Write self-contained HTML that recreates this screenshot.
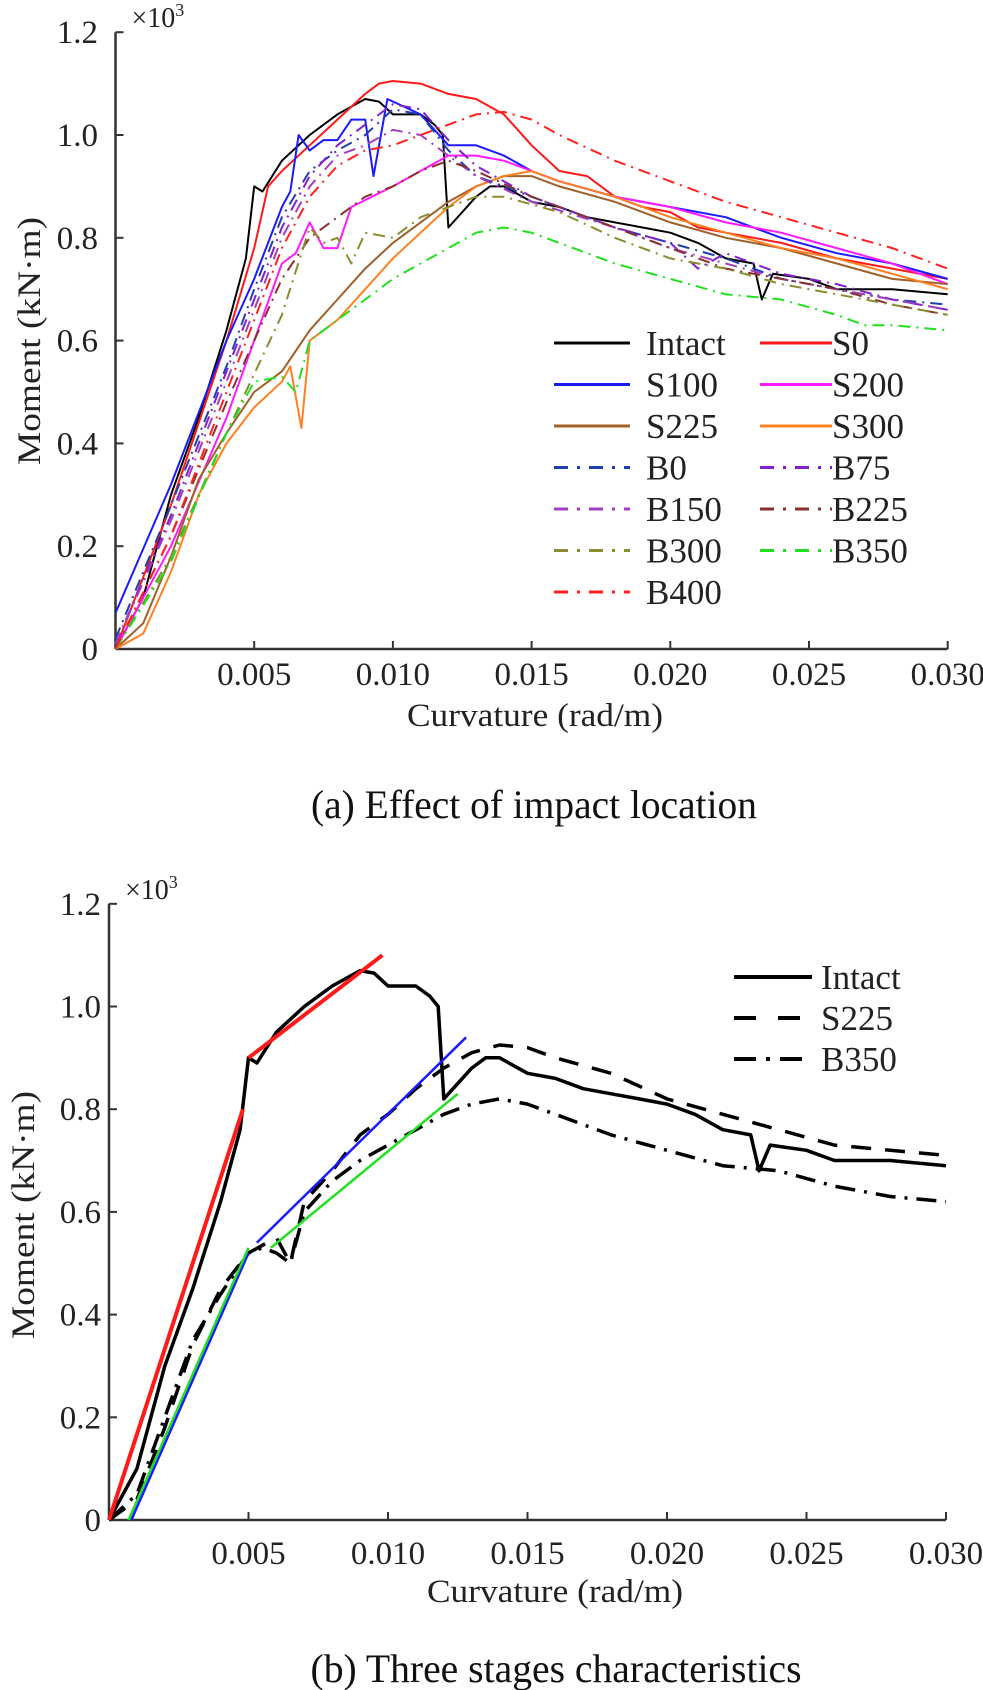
<!DOCTYPE html>
<html><head><meta charset="utf-8">
<style>
html,body{margin:0;padding:0;background:#fff;}
svg{display:block;font-family:"Liberation Serif",serif;}
</style></head>
<body>
<svg id="fig" width="983" height="1690" viewBox="0 0 983 1690" xmlns="http://www.w3.org/2000/svg">
<g id="chartA"></g>
<g id="chartB"></g>
</svg>
<script>
// ---------- shared ticks ----------
const xTicks = [0.005, 0.010, 0.015, 0.020, 0.025, 0.030];
const xTickLabels = ["0.005","0.010","0.015","0.020","0.025","0.030"];
const yTicks = [0, 0.2, 0.4, 0.6, 0.8, 1.0, 1.2];
const yTickLabels = ["0","0.2","0.4","0.6","0.8","1.0","1.2"];

// ---------- chart (a) data: curvature (rad/m), moment (x10^3 kN·m) ----------
const intactX = [0,0.001,0.002,0.003,0.004,0.0047,0.005,0.0053,0.006,0.007,0.008,0.009,0.0095,0.010,0.011,0.0115,0.0118,0.012,0.013,0.0135,0.014,0.015,0.016,0.017,0.018,0.019,0.020,0.021,0.022,0.023,0.0233,0.0237,0.025,0.026,0.028,0.030];
const intactY = [0,0.1,0.3,0.45,0.62,0.76,0.9,0.89,0.95,1.0,1.04,1.07,1.065,1.04,1.04,1.02,1.0,0.82,0.88,0.9,0.9,0.87,0.86,0.84,0.83,0.82,0.81,0.79,0.76,0.75,0.68,0.73,0.72,0.7,0.7,0.69];
const s0X = [0,0.002,0.004,0.005,0.0055,0.006,0.007,0.008,0.009,0.0095,0.010,0.011,0.012,0.013,0.014,0.015,0.016,0.017,0.018,0.019,0.020,0.021,0.022,0.024,0.026,0.028,0.030];
const s0Y = [0,0.28,0.6,0.78,0.9,0.93,0.98,1.03,1.08,1.1,1.105,1.1,1.08,1.07,1.04,0.98,0.93,0.92,0.88,0.86,0.85,0.82,0.81,0.79,0.76,0.74,0.72];
const s100X = [0,0.002,0.004,0.005,0.006,0.0063,0.0066,0.007,0.0075,0.008,0.0085,0.009,0.0093,0.0098,0.011,0.012,0.013,0.014,0.015,0.016,0.018,0.020,0.022,0.024,0.026,0.028,0.030];
const s100Y = [0.07,0.32,0.6,0.72,0.86,0.89,1.0,0.97,0.99,0.99,1.03,1.03,0.92,1.07,1.04,0.98,0.98,0.96,0.93,0.91,0.88,0.86,0.84,0.8,0.77,0.75,0.72];
const s200X = [0,0.002,0.004,0.005,0.006,0.0065,0.007,0.0075,0.008,0.0085,0.010,0.011,0.012,0.013,0.014,0.015,0.016,0.018,0.020,0.022,0.024,0.026,0.028,0.030];
const s200Y = [0,0.2,0.45,0.6,0.75,0.77,0.83,0.78,0.78,0.86,0.9,0.93,0.96,0.96,0.95,0.93,0.91,0.88,0.86,0.83,0.81,0.78,0.75,0.71];
const s225X = [0,0.001,0.002,0.003,0.004,0.005,0.006,0.007,0.008,0.009,0.010,0.011,0.012,0.013,0.014,0.015,0.016,0.018,0.020,0.022,0.024,0.026,0.028,0.030];
const s225Y = [0,0.05,0.18,0.33,0.42,0.5,0.54,0.62,0.68,0.74,0.79,0.83,0.87,0.9,0.92,0.92,0.9,0.87,0.83,0.8,0.78,0.75,0.72,0.71];
const s300X = [0,0.001,0.002,0.003,0.004,0.005,0.006,0.0063,0.0067,0.007,0.008,0.009,0.010,0.011,0.012,0.013,0.014,0.015,0.016,0.018,0.020,0.022,0.024,0.026,0.028,0.030];
const s300Y = [0,0.03,0.15,0.3,0.4,0.47,0.52,0.55,0.43,0.6,0.64,0.7,0.76,0.81,0.86,0.9,0.92,0.93,0.91,0.88,0.84,0.81,0.78,0.76,0.73,0.7];
const b0X = [0,0.002,0.004,0.005,0.006,0.007,0.008,0.009,0.010,0.011,0.012,0.013,0.014,0.016,0.018,0.020,0.022,0.024,0.026,0.028,0.030];
const b0Y = [0.02,0.28,0.55,0.7,0.84,0.93,0.97,1.0,1.05,1.04,0.97,0.92,0.9,0.86,0.82,0.79,0.76,0.72,0.7,0.68,0.67];
const b75X = [0,0.002,0.004,0.006,0.007,0.008,0.009,0.010,0.011,0.012,0.013,0.015,0.018,0.020,0.021,0.022,0.024,0.026,0.028,0.030];
const b75Y = [0.01,0.26,0.54,0.82,0.92,0.98,1.02,1.06,1.05,0.99,0.94,0.88,0.82,0.79,0.74,0.77,0.73,0.71,0.68,0.66];
const b150X = [0,0.002,0.004,0.006,0.007,0.008,0.009,0.010,0.011,0.012,0.013,0.015,0.018,0.020,0.022,0.024,0.026,0.028,0.030];
const b150Y = [0.01,0.25,0.52,0.8,0.9,0.96,0.98,1.01,1.0,0.96,0.92,0.87,0.82,0.78,0.75,0.72,0.7,0.68,0.66];
const b225X = [0,0.002,0.004,0.006,0.007,0.008,0.009,0.010,0.011,0.012,0.013,0.015,0.018,0.020,0.022,0.024,0.026,0.028,0.030];
const b225Y = [0,0.22,0.48,0.72,0.8,0.84,0.88,0.9,0.93,0.95,0.93,0.88,0.82,0.78,0.74,0.72,0.7,0.67,0.65];
const b300X = [0,0.002,0.004,0.006,0.007,0.0075,0.008,0.0085,0.009,0.010,0.011,0.012,0.013,0.014,0.016,0.018,0.020,0.022,0.024,0.026,0.028,0.030];
const b300Y = [0,0.18,0.42,0.65,0.82,0.79,0.8,0.75,0.81,0.8,0.84,0.86,0.88,0.88,0.85,0.8,0.76,0.74,0.71,0.69,0.67,0.65];
const b350X = [0,0.002,0.004,0.005,0.006,0.0065,0.007,0.008,0.009,0.010,0.011,0.012,0.013,0.014,0.015,0.016,0.018,0.020,0.022,0.024,0.026,0.027,0.028,0.030];
const b350Y = [0,0.17,0.42,0.52,0.53,0.5,0.6,0.64,0.68,0.72,0.75,0.78,0.81,0.82,0.81,0.79,0.75,0.72,0.69,0.68,0.65,0.63,0.63,0.62];
const b400X = [0,0.002,0.004,0.006,0.007,0.008,0.009,0.010,0.011,0.012,0.013,0.014,0.015,0.016,0.018,0.020,0.022,0.024,0.026,0.028,0.030];
const b400Y = [0,0.22,0.5,0.78,0.88,0.94,0.97,0.98,1.0,1.02,1.04,1.045,1.03,1.0,0.95,0.91,0.87,0.84,0.81,0.78,0.74];

// ---------- chart (b) data ----------
const bIntactX = intactX;
const bIntactY = intactY;
const bS225X = [0,0.001,0.002,0.003,0.004,0.005,0.006,0.0065,0.007,0.008,0.009,0.010,0.011,0.012,0.013,0.014,0.015,0.016,0.018,0.020,0.022,0.024,0.026,0.028,0.030];
const bS225Y = [0,0.04,0.18,0.34,0.45,0.52,0.55,0.5,0.62,0.68,0.75,0.79,0.84,0.88,0.91,0.925,0.92,0.9,0.87,0.82,0.79,0.76,0.73,0.72,0.71];
const bB350X = [0,0.001,0.002,0.003,0.004,0.005,0.0055,0.006,0.0065,0.007,0.008,0.009,0.010,0.011,0.012,0.013,0.014,0.015,0.016,0.018,0.020,0.022,0.024,0.026,0.028,0.030];
const bB350Y = [0,0.05,0.2,0.35,0.44,0.52,0.53,0.52,0.5,0.6,0.66,0.7,0.73,0.76,0.79,0.81,0.82,0.81,0.79,0.75,0.72,0.69,0.68,0.65,0.63,0.62];
const fitRedX = [0,0.0048,0.005,0.0098];
const fitRedY = [0,0.8,0.9,1.1];
const fitBlueX = [0.0008,0.005,0.0053,0.0128];
const fitBlueY = [0,0.52,0.54,0.94];
const fitGreenX = [0.0007,0.005,0.0058,0.0125];
const fitGreenY = [0,0.53,0.53,0.83];

const NS = "http://www.w3.org/2000/svg";
function mk(tag, parent, attrs){
  const e = document.createElementNS(NS, tag);
  for (const k in attrs) e.setAttribute(k, attrs[k]);
  parent.appendChild(e);
  return e;
}
function axes(cfg){
  return {
    sx: v => cfg.x0 + v / 0.005 * cfg.step,
    sy: v => cfg.y0 - v / 0.2 * cfg.ystep
  };
}
function drawFrame(g, cfg, A, prefix){
  const ax = mk("line", g, {x1:cfg.x0, y1:cfg.y0, x2:A.sx(0.030), y2:cfg.y0, stroke:"#333", "stroke-width":2.5});
  
  
  const ay = mk("line", g, {x1:cfg.x0, y1:cfg.y0, x2:cfg.x0, y2:A.sy(1.2), stroke:"#333", "stroke-width":2.5});
  
  
  xTicks.forEach((t,i)=>{
    const x = A.sx(t);
    const tk = mk("line", g, {x1:x, y1:cfg.y0, x2:x, y2:cfg.y0-8, stroke:"#333", "stroke-width":2});
    
    
    const tl = mk("text", g, {x:x, y:cfg.xLabY, "font-size":33, "text-anchor":"middle", fill:"#222"});
    tl.textContent = xTickLabels[i];
    
    
  });
  yTicks.forEach((t,i)=>{
    const y = A.sy(t);
    const tk = mk("line", g, {x1:cfg.x0, y1:y, x2:cfg.x0+8, y2:y, stroke:"#333", "stroke-width":2});
    
    
    const tl = mk("text", g, {x:cfg.yLabX, y:y+11, "font-size":33, "text-anchor":"end", fill:"#222"});
    tl.textContent = yTickLabels[i];
    
    
  });
  const ex = mk("text", g, {x:cfg.x0+16, y:A.sy(1.2)-5, "font-size":28, fill:"#222"});
  ex.innerHTML = '×10<tspan font-size="18" dy="-11">3</tspan>';
  
  
  const xt = mk("text", g, {x:cfg.xTitleX, y:cfg.xTitleY, "font-size":33, "text-anchor":"middle", fill:"#222", textLength:256, lengthAdjust:"spacingAndGlyphs"});
  xt.textContent = "Curvature (rad/m)";
  
  
  const yt = mk("text", g, {x:0, y:0, "font-size":33, "text-anchor":"middle", fill:"#222", textLength:248, lengthAdjust:"spacingAndGlyphs", transform:`translate(${cfg.yTitleX},${cfg.yTitleY}) rotate(-90)`});
  yt.textContent = "Moment  (kN·m)";
  
  
  const cp = mk("text", g, {x:cfg.capX, y:cfg.capY, "font-size":40, "text-anchor":"middle", fill:"#111", textLength:cfg.capLen, lengthAdjust:"spacingAndGlyphs"});
  cp.textContent = cfg.caption;
  
  
}
function series(g, A, xs, ys, color, width, dash, name){
  const d = xs.map((x,i)=>(i?"L":"M")+A.sx(x).toFixed(1)+","+A.sy(ys[i]).toFixed(1)).join(" ");
  const p = mk("path", g, {d:d, fill:"none", stroke:color, "stroke-width":width, "stroke-linejoin":"round"});
  if (dash) p.setAttribute("stroke-dasharray", dash);
  
  
  return p;
}
function legendEntry(g, x1, x2, tx, y, color, width, dash, label, name){
  const l = mk("line", g, {x1:x1, y1:y, x2:x2, y2:y, stroke:color, "stroke-width":width});
  if (dash) l.setAttribute("stroke-dasharray", dash);
  
  
  const t = mk("text", g, {x:tx, y:y+12, "font-size":35, fill:"#222"});
  t.textContent = label;
  
  
}

// ---------- Chart A ----------
const cfgA = {x0:115.5, y0:649, step:138.7, ystep:102.8, xLabY:685, yLabX:98, xTitleX:535, xTitleY:726, yTitleX:40, yTitleY:341, capX:534, capY:818, capLen:446, caption:"(a) Effect of impact location"};
const A = axes(cfgA);
const gA = document.getElementById("chartA");
drawFrame(gA, cfgA, A, "chart-a");
const DD = "12 6 2 6";
const specA = [
  [intactX,intactY,"#000",2,null,"Intact"],
  [s0X,s0Y,"#ff1a1a",2,null,"S0"],
  [s100X,s100Y,"#1a1aff",2,null,"S100"],
  [s200X,s200Y,"#ff1aff",2,null,"S200"],
  [s225X,s225Y,"#a0602a",2,null,"S225"],
  [s300X,s300Y,"#ff8020",2,null,"S300"],
  [b0X,b0Y,"#2040b0",2,DD,"B0"],
  [b75X,b75Y,"#8020d0",2,DD,"B75"],
  [b150X,b150Y,"#a040c0",2,DD,"B150"],
  [b225X,b225Y,"#8b3030",2,DD,"B225"],
  [b300X,b300Y,"#8b8b30",2,DD,"B300"],
  [b350X,b350Y,"#20e020",2,DD,"B350"],
  [b400X,b400Y,"#ff2020",2,DD,"B400"]
];
specA.forEach(s=>series(gA, A, s[0], s[1], s[2], s[3], s[4], "series-" + s[5].toLowerCase()));
const legA = mk("g", gA, {});


const legRowsA = [343,384.5,426,467.5,509,550.5,592];
specA.forEach((s,i)=>{
  const col = i % 2, row = Math.floor(i/2);
  const y = legRowsA[row];
  if (col===0) legendEntry(legA, 554, 630, 646, y, s[2], 3, s[4] ? "14 9 3 9" : null, s[5], "legend-" + s[5].toLowerCase());
  else legendEntry(legA, 760, 832, 832, y, s[2], 3, s[4] ? "14 9 3 9" : null, s[5], "legend-" + s[5].toLowerCase());
});

// ---------- Chart B ----------
const cfgB = {x0:109, y0:1520, step:139.5, ystep:102.7, xLabY:1564, yLabX:101, xTitleX:555, xTitleY:1602, yTitleX:34, yTitleY:1215, capX:556, capY:1682, capLen:491, caption:"(b) Three stages characteristics"};
const B = axes(cfgB);
const gB = document.getElementById("chartB");
drawFrame(gB, cfgB, B, "chart-b");
series(gB, B, bIntactX, bIntactY, "#000", 3.5, null, "series-b-intact");
series(gB, B, bS225X, bS225Y, "#000", 3.5, "20 14", "series-b-s225");
series(gB, B, bB350X, bB350Y, "#000", 3.5, "20 9 3 9", "series-b-b350");
function fitLines(xs, ys, color, w, name){
  for (let i=0;i<xs.length;i+=2){
    const l = mk("line", gB, {x1:B.sx(xs[i]), y1:B.sy(ys[i]), x2:B.sx(xs[i+1]), y2:B.sy(ys[i+1]), stroke:color, "stroke-width":w});
    
    
  }
}
fitLines(fitRedX, fitRedY, "#ff1a1a", 4, "fit-line-intact");
fitLines(fitBlueX, fitBlueY, "#1a1aff", 2.5, "fit-line-s225");
fitLines(fitGreenX, fitGreenY, "#20e020", 2.5, "fit-line-b350");
const legB = mk("g", gB, {});


legendEntry(legB, 734, 812, 821, 977, "#000", 4, null, "Intact", "legend-b-intact");
legendEntry(legB, 734, 812, 821, 1018, "#000", 4, "22 22", "S225", "legend-b-s225");
legendEntry(legB, 734, 812, 821, 1059, "#000", 4, "22 10 4 10", "B350", "legend-b-b350");
</script>
</body></html>
